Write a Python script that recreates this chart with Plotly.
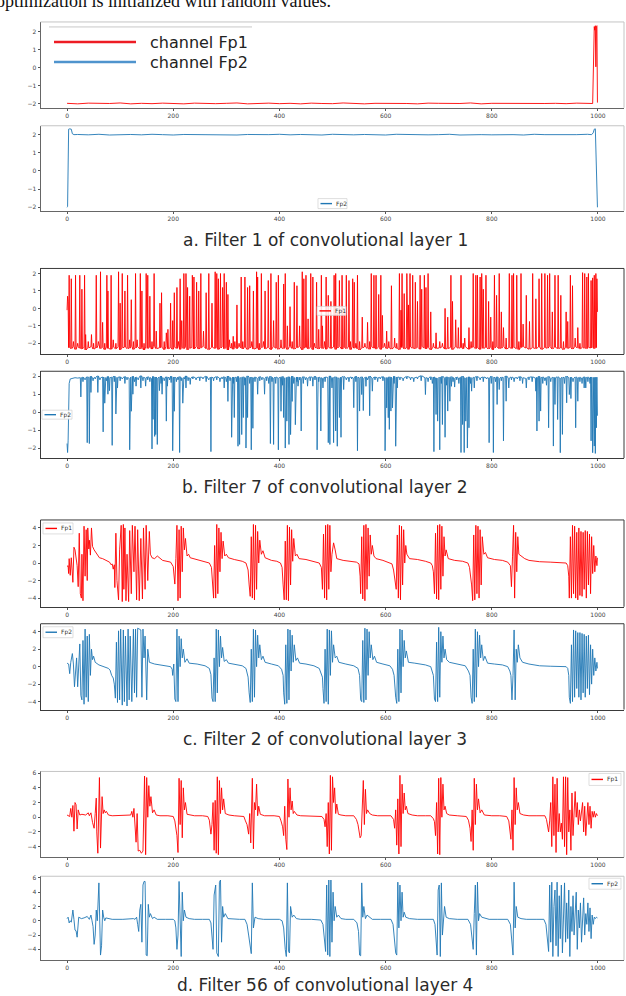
import plotly.graph_objects as go

W, H = 626, 996
RED = "#ff0000"
BLUE = "#1f77b4"

# ---------------- data (sample index 0..999) ----------------

# a. filter 1 / layer 1
a1_x = list(range(0, 1000, 20)) + [990, 993, 994, 995, 996, 997, 998, 999]
a1_y = [-1.99, -2.02, -1.98, -2.01, -2.0, -1.97, -2.02, -1.99, -2.01, -1.98,
        -2.0, -2.02, -1.98, -2.0, -2.01, -1.99, -1.97, -2.02, -2.0, -1.98,
        -2.01, -1.99, -2.02, -1.98, -2.0, -2.01, -1.97, -2.0, -2.02, -1.99,
        -1.98, -2.01, -2.0, -2.02, -1.98, -1.99, -2.01, -2.0, -1.97, -2.02,
        -1.99, -2.0, -2.01, -1.98, -2.02, -2.0, -1.99, -2.01, -1.98, -2.0,
        -2.0, 2.3, 2.1, 2.35, 0.05, 2.3, 2.35, -1.95]

a2_x = [0, 1, 3, 5, 8, 10, 13] + list(range(20, 1000, 20)) + [988, 991, 993, 995, 997, 999]
a2_y = [-2.0, -1.95, 2.3, 2.32, 2.3, 2.05, 2.0,
        2.01, 1.99, 2.02, 1.98, 2.0, 2.01, 1.99, 2.02, 2.0, 1.98,
        2.01, 2.0, 1.99, 2.02, 2.0, 1.98, 2.01, 1.99, 2.0, 2.02,
        1.99, 2.01, 2.0, 1.98, 2.02, 2.0, 1.99, 2.01, 2.0, 1.98,
        2.02, 2.0, 2.01, 1.99, 2.0, 2.02, 1.98, 2.01, 2.0, 1.99,
        2.01, 2.0, 1.98, 2.02, 2.0, 1.99, 2.01, 2.0, 2.02,
        2.0, 2.1, 2.3, 2.32, 0.2, -2.0]

# b. filter 7 / layer 2  (spikes: index, peak value, local baseline)
b1_start_x = [0, 1, 2]
b1_start_y = [-0.1, 0.7, 0.4]
b1_spike_x = [4, 8, 12, 16, 20, 24, 28, 33, 35, 40,
              46, 50, 55, 59, 63, 67, 71, 75, 77, 83,
              87, 92, 97, 100, 104, 109, 114, 118, 121, 125,
              129, 132, 138, 141, 145, 149, 152, 156, 160, 164,
              168, 175, 178, 183, 187, 190, 195, 199, 202, 207,
              210, 213, 216, 220, 224, 227, 231, 236, 239, 244,
              248, 252, 257, 262, 267, 273, 279, 282, 285, 289,
              293, 296, 300, 303, 306, 310, 313, 316, 320, 324,
              328, 331, 335, 340, 344, 348, 351, 357, 359, 362,
              366, 370, 373, 379, 384, 389, 394, 398, 403, 408,
              411, 415, 420, 424, 428, 433, 438, 443, 446, 450,
              454, 459, 463, 466, 470, 474, 479, 481, 485, 488,
              492, 497, 503, 506, 509, 513, 518, 522, 526, 531,
              534, 538, 541, 544, 547, 551, 556, 561, 566, 570,
              573, 578, 582, 587, 591, 594, 598, 602, 606, 611,
              617, 621, 626, 629, 631, 635, 640, 643, 646, 651,
              656, 660, 665, 668, 673, 676, 680, 685, 690, 695,
              702, 707, 712, 717, 723, 726, 732, 737, 742, 746,
              749, 757, 761, 765, 770, 773, 778, 781, 784, 789,
              794, 798, 802, 805, 809, 814, 818, 822, 827, 833,
              838, 841, 847, 851, 855, 859, 865, 871, 877, 883,
              889, 894, 900, 905, 909, 914, 919, 925, 930, 935,
              940, 943, 948, 952, 957, 962, 966, 971, 975, 979,
              982, 987, 990, 993, 996]
b1_spike_y = [1.9, 1.7, -1.9, 1.9, -2.0, 1.9, 1.1, 1.9, -1.5, -1.9,
              -1.5, -2.0, 1.9, -1.9, 2.1, -0.8, -2.0, 1.9, 1.0, 1.9,
              -1.8, -2.0, 2.1, 0.3, 2.0, 1.0, 1.9, -1.8, 0.5, -1.9,
              2.0, -1.8, 2.0, 1.0, -2.0, 2.0, 1.9, 0.7, -1.9, 2.0,
              -1.3, 0.3, 0.9, -1.9, -1.4, -1.2, 0.3, -0.7, 0.9, 1.2,
              -1.9, 1.7, -0.7, 2.0, 2.0, 1.2, 0.7, 1.9, 1.8, 1.5,
              1.0, 2.0, -1.3, 0.9, 2.0, 0.3, 2.1, 2.0, 1.7, 2.0,
              1.2, 2.0, 1.5, 0.8, -1.8, -2.0, -1.6, -1.9, 0.2, -2.0,
              1.8, -1.9, 1.8, 1.2, 1.3, -1.9, 1.0, 2.1, 1.8, -2.0,
              2.0, -1.9, 1.0, 1.6, 2.0, -0.7, 1.5, 1.9, -1.8, 1.4,
              2.0, -1.0, 0.1, -1.9, 1.5, 1.3, -1.0, 2.1, 1.7, 1.9,
              -0.6, 2.0, 1.8, -2.0, 1.5, -1.2, 1.9, -1.0, -1.9, 1.8,
              0.75, 0.4, 1.9, 2.0, -0.2, 1.6, 1.9, -0.2, 1.9, 1.6,
              -1.9, 1.7, 1.5, -2.0, 1.9, -1.9, -0.5, -2.0, -0.8, -1.9,
              2.0, 1.9, 1.9, 0.8, 1.9, -0.4, -2.0, -1.3, -1.9, 1.3,
              -1.7, -2.0, 2.0, -0.1, 2.0, 0.85, 2.0, 0.2, 2.0, 1.9,
              1.5, 0.4, 1.9, 1.1, 1.9, 1.2, 2.0, -0.2, -2.0, -1.4,
              -1.9, -2.0, 0.0, -0.5, 1.9, 0.4, -0.65, -1.1, 1.9, -2.0,
              -1.7, -1.1, -1.9, 2.0, 1.9, 1.9, 1.8, 2.0, 1.1, 1.9,
              0.4, -0.5, -1.9, 1.9, 0.75, 2.0, -0.2, -1.1, -1.7, 2.0,
              1.9, 2.0, 1.9, -1.9, 2.0, -0.9, 0.75, -0.75, 2.0, 0.55,
              1.7, 2.0, 2.0, 1.9, 2.0, -0.2, 1.9, 1.9, 0.75, -1.9,
              -0.2, -0.75, 1.9, 1.3, -1.7, -1.1, -2.0, 2.05, 2.0, 1.8,
              2.0, 1.6, 1.75, 1.9, 2.0]
b1_base = [-2.25, -2.3, -2.2, -2.35, -2.18, -2.28, -2.32, -2.22, -2.38, -2.26,
           -2.2, -2.33, -2.27, -2.15, -2.3, -2.24, -2.36, -2.21, -2.29, -2.34,
           -2.23, -2.31, -2.19, -2.37, -2.26, -2.22, -2.3, -2.28, -2.17, -2.35,
           -2.27, -2.2, -2.32, -2.25, -2.38, -2.21, -2.29, -2.24, -2.33, -2.18,
           -2.3, -2.26, -2.22, -2.36, -2.2, -2.31, -2.27, -2.34, -2.23, -2.29,
           -2.19, -2.35, -2.25, -2.3, -2.21, -2.37, -2.28, -2.24, -2.32, -2.2,
           -2.33, -2.26, -2.18, -2.3, -2.36, -2.23, -2.29, -2.22, -2.35, -2.27,
           -2.21, -2.31, -2.25, -2.38, -2.2, -2.28, -2.34, -2.24, -2.3, -2.19,
           -2.26, -2.32, -2.22, -2.35, -2.27, -2.2, -2.33, -2.29, -2.23, -2.37,
           -2.25, -2.18, -2.31, -2.24, -2.36, -2.21, -2.28, -2.34, -2.26, -2.3,
           -2.22, -2.35, -2.19, -2.29, -2.33, -2.25, -2.2, -2.37, -2.27, -2.23,
           -2.31, -2.24, -2.36, -2.2, -2.28, -2.32, -2.18, -2.3, -2.26, -2.34,
           -2.23, -2.29, -2.21, -2.35, -2.27, -2.19, -2.33, -2.25, -2.3, -2.22,
           -2.36, -2.2, -2.28, -2.24, -2.31, -2.38, -2.26, -2.21, -2.29, -2.34,
           -2.2, -2.27, -2.32, -2.23, -2.35, -2.25, -2.18, -2.3, -2.26, -2.33,
           -2.22, -2.29, -2.36, -2.24, -2.2, -2.31, -2.27, -2.35, -2.21, -2.28,
           -2.3, -2.23, -2.34, -2.19, -2.26, -2.32, -2.25, -2.37, -2.22, -2.29,
           -2.27, -2.2, -2.33, -2.3, -2.24, -2.36, -2.21, -2.28, -2.25, -2.31,
           -2.19, -2.34, -2.26, -2.22, -2.3, -2.27, -2.35, -2.2, -2.29, -2.24,
           -2.32, -2.23, -2.37, -2.26, -2.21, -2.3, -2.28, -2.18, -2.33, -2.25,
           -2.29, -2.22, -2.31, -2.36, -2.24, -2.2, -2.27, -2.34, -2.26, -2.3,
           -2.21, -2.35, -2.25, -2.28, -2.19, -2.32, -2.23, -2.3, -2.27, -2.36,
           -2.22, -2.29, -2.24, -2.33, -2.2, -2.26, -2.31, -2.25, -2.28, -2.3,
           -2.24, -2.27, -2.22, -2.3, -2.25, -2.2, -2.28, -2.26, -2.3, -2.25]
b1_end_x = [998, 999]
b1_end_y = [1.7, -0.2]

b2_start_x = [0, 1, 2, 4, 6, 10, 15, 20]
b2_start_y = [-1.75, -2.25, -1.6, 1.6, 1.85, 1.9, 1.92, 1.9]
b2_spike_x = [26, 30, 34, 38, 42, 45, 49, 53, 58, 62,
              68, 71, 74, 77, 80, 85, 89, 92, 95, 100,
              104, 109, 113, 118, 121, 124, 127, 130, 134, 139,
              143, 148, 152, 156, 160, 162, 165, 167, 170, 174,
              177, 179, 183, 187, 189, 193, 196, 199, 202, 206,
              209, 212, 215, 218, 221, 224, 228, 232, 237, 243,
              250, 256, 262, 267, 271, 276, 282, 288, 292, 296,
              300, 303, 307, 310, 313, 315, 319, 322, 325, 329,
              332, 335, 337, 340, 344, 347, 350, 354, 359, 363,
              367, 372, 376, 380, 383, 386, 389, 393, 398, 403,
              406, 408, 411, 414, 418, 421, 424, 427, 430, 433,
              435, 438, 441, 445, 449, 453, 458, 463, 467, 471,
              474, 478, 482, 486, 492, 495, 499, 502, 506, 509,
              513, 516, 521, 526, 531, 536, 540, 544, 547, 551,
              555, 558, 563, 566, 570, 575, 580, 585, 590, 595,
              599, 602, 605, 607, 610, 613, 616, 619, 622, 627,
              633, 640, 647, 653, 660, 667, 675, 680, 685, 688,
              691, 695, 698, 702, 705, 707, 712, 715, 717, 721,
              724, 727, 730, 734, 738, 742, 745, 748, 751, 754,
              757, 760, 762, 767, 772, 778, 784, 790, 795, 799,
              803, 807, 810, 814, 818, 822, 827, 832, 837, 842,
              848, 853, 858, 865, 870, 876, 883, 885, 889, 892,
              896, 900, 903, 907, 911, 916, 919, 924, 929, 933,
              937, 941, 946, 949, 953, 958, 962, 966, 970, 974,
              977, 981, 985, 987, 990, 993, 995, 997]
b2_spike_y = [0.85, 1.7, 1.8, -1.7, -1.75, 1.1, 1.75, 1.85, 1.1, 1.8,
              -1.1, 0.5, 1.75, 1.0, 1.2, -1.85, 1.7, -0.1, 1.35, 1.75,
              1.85, 1.6, 1.8, -2.1, 0.05, 1.0, 1.7, 1.45, 1.8, 1.35,
              1.75, 1.45, 1.8, 1.7, -2.05, -0.4, -1.35, -1.25, -1.8, 1.2,
              1.6, 1.0, 1.75, -0.5, 1.45, 1.8, 1.65, -2.15, 0.05, 1.7,
              1.8, -2.25, 1.75, 0.5, 1.85, 1.35, 1.75, 1.55, 1.85, 1.8,
              1.75, 1.85, 1.7, 1.8, -2.2, 1.75, 1.8, 1.7, 1.85, 1.35,
              1.7, 0.6, 1.75, -1.4, 1.6, -0.3, 1.7, -1.9, -1.8, -1.25,
              -0.3, 1.5, -2.0, -0.3, 1.6, -2.1, -0.9, 1.7, 1.0, 1.75,
              1.8, 1.0, 1.75, 1.6, -1.75, 1.7, -1.8, 1.6, -2.1, 0.05,
              1.5, -0.3, -2.0, -0.5, -1.8, -1.25, 0.6, 1.6, -0.7, 1.7,
              1.45, 1.8, -1.05, 1.6, 1.8, 1.45, 1.75, 1.45, 1.8, -2.1,
              1.7, -1.05, 1.35, 1.7, -1.7, -1.8, 1.35, -1.7, -1.05, -1.9,
              -0.3, -1.4, 1.26, 1.8, 1.7, 1.85, 0.25, 1.7, -2.15, 0.06,
              0.98, 0.09, 1.44, 1.8, -0.2, 1.17, 1.8, 1.7, 1.85, 1.75,
              -2.15, 0.24, -0.31, -0.96, 0.06, 0.24, 1.6, -1.9, 1.35, 1.8,
              1.75, 1.85, 1.8, 1.7, 1.85, 1.75, 0.98, 1.7, 1.8, 1.6,
              -2.2, -0.13, -0.5, -2.1, 1.6, -0.69, -1.4, 1.5, 0.06, 0.61,
              1.44, 1.7, 1.4, 1.8, 1.6, -2.25, -0.69, -2.25, -0.5, -2.0,
              -0.87, 1.6, 1.17, 1.35, 1.75, 1.8, 1.7, 1.85, -1.7, 1.6,
              -2.25, 1.7, 0.43, 1.26, 1.75, -1.6, 0.61, 1.35, 1.8, 1.7,
              1.85, 1.75, 1.6, 1.35, 1.8, 1.7, 1.17, -1.05, -0.5, 0.06,
              1.6, 1.75, 1.5, -0.87, 1.7, -1.89, 0.43, -0.41, -2.26, -1.24,
              1.6, 0.52, 0.98, 0.76, 1.7, -0.87, 0.61, 1.7, 1.6, 1.35,
              1.35, 1.7, 1.6, -1.6, -2.26, -1.89, -2.3, -0.87]
b2_base = [1.92, 1.95, 1.89, 1.97, 1.93, 2.0, 1.9, 1.94, 2.02, 1.91,
           1.96, 1.88, 1.93, 1.99, 1.92, 1.95, 2.01, 1.9, 1.94, 1.97,
           1.91, 1.98, 1.93, 1.89, 1.96, 2.0, 1.92, 1.95, 1.9, 2.03,
           1.94, 1.91, 1.97, 1.93, 1.88, 1.99, 1.92, 1.96, 1.9, 1.95,
           2.01, 1.93, 1.89, 1.97, 1.92, 1.94, 2.0, 1.91, 1.96, 1.9,
           1.95, 1.98, 1.92, 1.88, 1.94, 2.02, 1.93, 1.9, 1.97, 1.91,
           1.96, 1.93, 2.0, 1.89, 1.95, 1.92, 1.98, 1.9, 1.94, 1.97,
           1.91, 2.01, 1.93, 1.88, 1.96, 1.92, 1.95, 1.99, 1.9, 1.94,
           1.97, 1.92, 1.89, 2.02, 1.93, 1.96, 1.91, 1.95, 1.9, 1.98,
           1.93, 1.88, 1.97, 1.92, 2.0, 1.94, 1.9, 1.96, 1.91, 1.95,
           1.99, 1.92, 1.89, 1.94, 1.97, 1.91, 2.01, 1.93, 1.9, 1.96,
           1.92, 1.95, 1.88, 1.98, 1.93, 1.9, 1.97, 1.94, 2.0, 1.91,
           1.95, 1.92, 1.89, 1.96, 1.93, 2.02, 1.9, 1.94, 1.97, 1.92,
           1.88, 1.95, 1.99, 1.91, 1.93, 1.96, 1.9, 2.0, 1.94, 1.92,
           1.97, 1.89, 1.95, 1.93, 2.01, 1.9, 1.96, 1.92, 1.94, 1.98,
           1.91, 1.93, 1.88, 1.97, 1.95, 1.9, 2.0, 1.92, 1.96, 1.94,
           1.89, 1.99, 1.93, 1.91, 1.95, 2.03, 1.92, 1.9, 1.97, 1.94,
           1.96, 1.91, 1.88, 1.95, 1.93, 2.0, 1.9, 1.97, 1.92, 1.94,
           1.98, 1.93, 1.89, 1.96, 1.91, 1.95, 2.01, 1.92, 1.9, 1.94,
           1.97, 1.93, 1.88, 1.95, 1.99, 1.91, 1.96, 1.92, 1.9, 2.0,
           1.94, 1.92, 1.97, 1.89, 1.95, 1.93, 2.02, 1.9, 1.96, 1.91,
           1.93, 1.98, 1.92, 1.88, 1.95, 1.97, 1.9, 1.94, 2.0, 1.92,
           1.96, 1.91, 1.93, 1.99, 1.89, 1.95, 1.92, 1.97, 1.9, 1.94,
           1.93, 2.01, 1.91, 1.95, 1.88, 1.96, 1.92, 1.94, 1.9, 1.97,
           1.93, 1.95, 1.91, 1.96, 1.92, 1.94, 1.9, 1.95, 1.93, 1.92]
b2_end_x = [998, 999]
b2_end_y = [1.7, -0.2]

# c. filter 2 / layer 3
c1_x = [0, 2, 3, 4, 6, 8, 11, 13, 15, 17, 19, 21, 23, 25, 27, 28, 30, 32, 34, 36,
        38, 39, 41, 42, 44, 46, 48, 51, 55, 58, 61, 67, 73, 80, 83, 85, 87, 89,
        90, 92, 94, 97, 99, 102, 104, 106, 107, 109, 111, 113, 116, 118, 121, 123,
        126, 128, 131, 133, 136, 139, 142, 144, 147, 149, 152, 155, 157, 160, 165,
        170, 180, 195, 200,
        203, 205, 207, 209, 211, 213, 215, 217, 219, 221, 223, 226, 229, 232, 245,
        260, 268, 272,
        274, 276, 278, 280, 282, 284, 286, 288, 290, 292, 294, 297, 300, 304, 315,
        330, 337, 341,
        343, 345, 347, 349, 351, 353, 355, 357, 359, 361, 363, 366, 369, 373, 385,
        395, 402, 405,
        407, 409, 411, 413, 415, 417, 419, 421, 423, 425, 427, 430, 433, 437, 450,
        465, 475, 479,
        481, 483, 485, 487, 489, 491, 493, 495, 497, 499, 502, 505, 508, 520, 535,
        545, 550, 552,
        553, 555, 557, 559, 561, 563, 565, 567, 569, 571, 573, 575, 578, 582, 595,
        605, 612, 615, 617,
        620, 622, 624, 626, 628, 630, 632, 634, 636, 638, 640, 645, 660, 675, 685,
        688, 690,
        692, 694, 696, 698, 700, 702, 704, 706, 708, 710, 712, 714, 718, 730, 745,
        755, 758,
        762, 764, 766, 768, 770, 772, 774, 776, 778, 780, 782, 785, 788, 792, 805,
        820, 830, 835, 837,
        839, 841, 843, 845, 847, 849, 851, 855, 862, 870, 890, 910, 930, 940, 943,
        945,
        946, 948, 950, 952, 954, 956, 958, 960, 962, 964, 966, 968, 970, 972, 974,
        976, 978, 980, 982, 984, 986, 988, 990, 992, 994, 996, 998, 999]
c1_y = [-0.4, -0.3, -1.2, 0.5, -1.4, 0.6, -2.2, 1.8, 1.5, 0.2, -0.3, -2.7, 3.4, -3.5, -4.0, 1.0, -4.3, 4.2, -1.5, 3.8,
        -2.0, 4.0, 1.6, 2.6, 0.9, 4.0, 1.9, 1.5, 1.1, 0.9, 0.6, 0.5, 0.3, 0.1, -0.2, -0.1, -0.7, -0.2,
        -2.8, 3.4, -2.0, -4.2, 1.5, 4.3, -4.4, 4.4, -3.0, 4.0, -4.3, 1.0, -4.4, 3.7, -3.5, 4.3,
        -1.0, 4.2, -4.2, 3.8, -4.3, 2.8, -4.1, 4.0, -3.0, 4.3, -2.0, 3.6, 1.0, 0.6, 0.5,
        0.8, 0.3, 0.1, -0.4,
        -2.4, 0.5, 4.3, -4.3, 3.8, -4.0, 4.2, -1.0, 4.0, 1.5, 2.8, 0.8, 1.0, 0.6, 0.4,
        0.2, 0.0, -0.5,
        -2.3, -4.0, 2.0, -4.0, 4.4, -3.5, 4.0, -1.0, 3.5, 0.5, 2.5, 0.8, 1.0, 0.6, 0.4,
        0.2, 0.0, -0.8,
        -2.5, -3.8, 3.0, -4.0, 4.4, -4.2, 4.3, -3.0, 3.6, 0.0, 2.6, 1.0, 1.4, 0.6, 0.3,
        0.2, 0.0, -0.5,
        -2.5, -4.2, 2.5, -4.2, 4.3, -4.3, 4.1, -2.5, 3.8, 0.2, 2.8, 0.8, 1.0, 0.5, 0.4,
        0.2, 0.0, -0.5,
        -3.0, 3.3, -4.0, 4.3, -4.2, 4.4, -3.0, 4.3, -1.0, 1.0, 2.3, 1.5, 0.5, 0.3, 0.2,
        0.1, -0.1, -1.5,
        -3.5, 3.0, -4.1, 4.3, -4.3, 4.4, -3.0, 4.0, -1.5, 3.2, 1.0, 2.0, 0.8, 0.5, 0.3,
        0.1, -0.1, -0.8, -1.5,
        -3.0, 3.2, -4.0, 4.3, -4.2, 4.2, -2.5, 3.8, 0.0, 2.0, 1.0, 0.5, 0.4, 0.2, 0.0,
        -0.3, -1.0,
        -3.5, 3.4, -4.1, 4.3, -4.2, 4.4, -3.0, 4.2, -1.5, 3.0, 0.8, 1.5, 0.5, 0.3, 0.2,
        0.0, -0.5,
        -2.5, -4.3, 3.2, -4.2, 4.3, -3.5, 4.2, -4.0, 3.8, -2.5, 3.0, 1.0, 1.2, 0.6, 0.4,
        0.3, 0.1, -0.3, -2.7,
        0.7, 4.3, -4.0, 3.5, -1.0, 3.0, 1.0, 0.8, 0.5, 0.3, 0.15, 0.1, 0.05, 0.0, -0.3,
        -1.5,
        -4.0, 3.0, -4.0, 4.3, -3.5, 4.2, -4.0, 3.5, -4.2, 4.0, -3.7, 3.6, -3.8, 3.5, -3.0,
        3.7, -4.0, 3.6, -2.5, 3.3, -3.5, 3.0, -1.2, 2.0, -1.0, 0.8, -0.3, 0.6]

c2_x = [0, 3, 5, 7, 10, 12, 14, 16, 18, 20, 22, 24, 26, 28, 30, 32, 34, 36, 38, 40,
        42, 44, 46, 48, 50, 53, 60, 70, 78, 81, 84, 87,
        89, 91, 93, 95, 97, 99, 101, 104, 106, 108, 110, 113, 115, 117, 119, 122,
        125, 127, 129, 131, 133, 136, 139, 141, 143, 145, 147, 150, 152, 155, 165,
        175, 185, 195, 198,
        199, 201, 203, 205, 207, 209, 211, 213, 215, 217, 219, 222, 226, 230, 245,
        260, 268, 271,
        273, 275, 277, 279, 281, 283, 285, 287, 289, 291, 293, 296, 300, 304, 315,
        330, 337, 341,
        343, 345, 347, 349, 351, 353, 355, 357, 359, 361, 363, 366, 369, 373, 385,
        398, 404, 407,
        408, 410, 412, 414, 416, 418, 420, 422, 424, 426, 428, 431, 434, 438, 450,
        465, 475, 478, 481,
        482, 484, 486, 488, 490, 492, 494, 496, 498, 500, 502, 505, 508, 512, 525,
        540, 548, 551,
        553, 555, 557, 559, 561, 563, 565, 567, 569, 571, 573, 576, 579, 583, 595,
        608, 613, 616,
        619, 621, 623, 625, 627, 629, 631, 633, 635, 637, 639, 643, 655, 675, 685,
        688, 690,
        692, 694, 696, 698, 700, 702, 704, 706, 708, 710, 712, 715, 720, 735, 750,
        756, 759,
        761, 763, 765, 767, 769, 771, 773, 775, 777, 779, 781, 784, 787, 792, 805,
        820, 830, 834, 836,
        838, 840, 842, 844, 846, 848, 850, 853, 858, 870, 890, 910, 930, 940, 943,
        945,
        946, 948, 950, 952, 954, 956, 958, 960, 962, 964, 966, 968, 970, 972, 974,
        976, 978, 980, 982, 984, 986, 988, 990, 992, 994, 996, 998, 999]
c2_y = [0.4, 0.3, -0.8, 0.5, 1.5, 0.3, -2.3, -0.5, 1.0, -2.3, 0.5, 2.6, -3.3, -3.8, 3.0, -4.3, 4.3, -3.5, 3.5, -4.0,
        3.7, -1.0, 2.0, 0.8, 1.2, 0.5, 0.2, 0.0, -0.2, -0.4, -1.0, -1.3,
        -2.0, -3.6, 2.8, -4.1, 4.1, -3.8, 4.3, -4.4, 4.2, -4.0, 3.5, -4.5, 4.3, -3.8, 3.5, -4.0,
        4.3, -3.0, 4.3, -3.5, 4.4, 4.3, 4.2, -3.5, 4.3, 1.0, 3.5, -3.8, 2.0, 0.5, 0.3,
        0.2, 0.1, 0.0, -0.3,
        -1.0, 0.3, -3.7, -4.0, 4.3, -4.0, 3.5, 0.0, 3.2, 1.0, 2.0, 0.5, 0.9, 0.4, 0.3,
        0.1, -0.2, -0.9,
        -3.6, -4.0, 1.0, -4.0, 4.3, -3.0, 4.2, 0.0, 3.5, 1.0, 2.2, 0.6, 0.8, 0.4, 0.3,
        0.1, -0.2, -1.2,
        -3.0, -4.1, 2.0, -4.0, 4.3, -3.5, 4.2, 0.0, 3.6, 1.0, 2.5, 0.8, 1.2, 0.5, 0.3,
        0.1, -0.3, -1.0,
        -3.0, -4.3, 2.5, -4.2, 4.3, -3.8, 4.2, -0.5, 3.6, 0.5, 2.5, 0.7, 1.0, 0.4, 0.3,
        0.1, -0.2, -0.6, -1.2,
        -2.5, -4.2, 2.0, -4.0, 4.3, -4.3, 4.2, -1.0, 4.1, 0.5, 2.5, 1.0, 1.2, 0.5, 0.3,
        0.1, -0.2, -1.0,
        -3.8, -4.0, 3.0, -4.1, 4.4, -3.8, 4.3, -1.0, 4.0, 1.0, 2.5, 0.8, 1.2, 0.5, 0.3,
        0.1, -0.3, -1.0,
        -3.5, -4.2, 2.0, -4.0, 4.3, -3.0, 4.2, 0.0, 3.0, 1.0, 1.8, 0.5, 0.4, 0.2, 0.0,
        -0.5, -1.0,
        -3.7, -4.0, 2.8, -4.0, 4.5, -3.5, 4.0, 0.5, 3.5, 1.0, 2.0, 0.8, 0.5, 0.3, 0.1,
        -0.5, -1.0,
        -3.5, -4.2, 2.0, -4.0, 4.3, -3.5, 4.0, 0.0, 3.6, 1.0, 2.5, 0.7, 1.2, 0.4, 0.3,
        0.2, 0.0, -0.5, -1.0,
        -3.8, -1.0, 4.2, -3.8, 2.0, 0.5, 2.5, 1.0, 0.5, 0.3, 0.1, 0.05, 0.0, 0.0, -0.2,
        -1.0,
        -3.5, -4.2, 2.5, -4.0, 4.2, -3.5, 4.1, -2.5, 3.9, -3.5, 3.9, -3.8, 3.8, -3.0, 3.7,
        -3.5, 3.5, -2.5, 3.6, -3.2, 2.5, -2.0, 2.0, -1.0, 1.0, -0.5, 0.5, -0.2]

# d. filter 56 / layer 4
d1_x = [0, 3, 5, 7, 9, 11, 13, 15, 17, 19, 21, 24, 28, 35, 40, 42, 45, 48, 51, 53,
        55, 56, 58, 61, 63, 66, 68, 70, 72, 74, 78, 85, 100, 115,
        120, 122, 124, 126, 128, 130, 132, 134, 137, 140, 143, 146, 148, 150, 152,
        154, 156, 158, 161, 164, 168, 175, 190,
        200, 203, 205, 207, 209, 211, 213, 215, 217, 219, 221, 223, 226, 232, 240,
        255, 265, 268, 271, 273, 275, 277, 279, 281, 283, 285, 287, 289, 291, 293,
        295, 298, 305, 315, 325,
        333, 336, 339, 342, 344, 346, 349, 351, 353, 355, 357, 359, 361, 364, 372,
        390, 400, 403, 406, 408, 410, 412, 414, 416, 418, 420, 422, 424, 426, 428,
        433, 440, 460,
        480, 484, 486, 488, 490, 492, 494, 496, 498, 500, 502, 504, 506, 508, 511,
        516, 525, 540, 545, 548, 550, 552, 554, 556, 558, 560, 562, 564, 566, 570,
        575, 585, 600,
        610, 615, 617, 619, 621, 623, 625, 627, 629, 631, 633, 635, 637, 639, 642,
        650, 660, 675, 685, 690, 692, 694, 696, 698, 700, 702, 704, 706, 708, 710,
        712, 715, 720, 735,
        752, 756, 759, 761, 763, 765, 767, 769, 771, 773, 775, 778, 781, 786, 800,
        815, 828, 832, 834, 836, 838, 840, 842, 844, 846, 848, 850, 853, 860, 870,
        885, 900,
        903, 905, 907, 909, 911, 913, 915, 917, 919, 921, 923, 925, 927, 929, 931,
        933, 935, 937, 939, 941, 943, 945, 947, 949, 951, 953, 955, 957, 959, 961,
        963, 965, 967, 969, 971, 973, 975, 977, 979, 981, 983, 985, 987, 989, 991,
        993, 995, 997, 999]
d1_y = [0.3, 0.2, 0.1, 1.2, 0.0, 1.6, -1.9, 2.0, 1.7, -1.6, 1.0, 0.3, 0.4, 0.3, 0.6, 0.2, 0.6, -0.7, -1.5, 0.5,
        2.6, -2.0, -4.9, 5.4, -4.2, 2.8, 0.5, 1.0, 0.6, 0.8, 0.3, 0.2, 0.2, 0.2,
        0.3, 0.8, 0.0, 1.2, -1.0, -3.4, 0.5, -4.6, -4.5, -4.9, -4.6, 5.6, -5.1, 5.4, 0.0,
        4.3, 1.5, 2.8, 0.6, 1.0, 0.3, 0.2, 0.2,
        0.1, -0.5, -1.5, -2.5, -4.8, 5.3, -1.0, 5.0, -2.8, 4.0, 1.0, 2.0, 0.4, 0.3, 0.2,
        0.2, 0.1, -0.4, -2.3, -1.0, 2.0, -4.5, 2.3, -4.9, 5.5, -5.1, 5.0, 0.5, 4.0, 1.0,
        2.5, 0.5, 0.3, 0.2, 0.2,
        0.1, -0.5, -1.0, -2.3, 0.5, -3.5, 5.3, -4.3, 2.0, 1.0, 4.5, 0.2, 1.5, 0.4, 0.2,
        0.2, 0.1, -0.5, -1.3, -2.5, 1.5, -3.0, -4.4, 5.2, 0.0, 4.0, 1.0, 2.2, 0.5, 0.8,
        0.3, 0.2, 0.2,
        0.1, -0.3, -1.3, 0.5, -4.0, 2.0, -5.0, 5.7, -4.5, 5.5, 2.0, 4.0, 0.5, 1.8, 0.4,
        0.3, 0.2, 0.2, -0.3, -1.0, -2.0, -2.8, -2.5, 1.0, 5.0, -1.0, 3.8, 0.5, 1.0, 0.5,
        0.3, 0.2, 0.2,
        0.2, -0.3, -1.5, 1.0, -3.8, 2.5, -5.0, 5.7, -4.0, 4.5, 0.5, 3.3, 1.0, 1.5, 0.5,
        0.3, 0.2, 0.2, 0.2, -0.2, -0.6, -2.5, 2.0, -5.0, 5.3, -5.1, 5.4, 0.0, 4.5, 1.0,
        1.5, 0.5, 0.3, 0.2,
        0.1, -0.4, -1.5, -3.3, 1.0, -4.5, 5.3, -1.0, 4.5, 1.0, 2.5, 0.6, 1.0, 0.3, 0.2,
        0.2, 0.1, -0.5, -1.8, -3.0, 1.0, -4.5, 5.4, -1.0, 4.0, 1.0, 2.0, 0.5, 0.3, 0.2,
        0.2, 0.2,
        -0.3, -1.0, -2.0, -0.5, 2.0, -4.0, 5.5, -2.5, 4.5, -4.8, 5.3, -2.0, 0.5, -2.0, -0.8,
        -3.0, 5.5, -4.0, 5.5, -5.1, 5.4, -2.0, 1.0, -4.5, 3.3, -2.5, 1.0, 3.5, 0.0, 2.0,
        -1.0, 1.0, -0.5, 0.5, 2.0, -2.0, 1.5, -2.5, 0.3, 2.0, -1.0, 1.5, -1.5, 0.8, 0.0,
        0.8, 0.0, 0.5, 0.2]

d2_x = [0, 2, 4, 6, 8, 11, 13, 15, 17, 19, 22, 27, 32, 38, 42, 45, 47, 49, 51, 53,
        55, 57, 60, 62, 63, 65, 67, 69, 71, 73, 78, 85, 105,
        125, 128, 131, 133, 135, 137, 139, 141, 143, 145, 147, 149, 151, 153, 155,
        157, 161, 164, 170, 185,
        200, 203, 205, 207, 209, 211, 213, 215, 217, 219, 221, 224, 230, 240, 255,
        268, 271, 273, 275, 277, 280, 282, 285, 287, 289, 291, 293, 295, 298, 303,
        315, 325,
        335, 339, 342, 345, 347, 349, 351, 354, 360, 370, 385,
        400, 405, 408, 411, 413, 415, 417, 419, 421, 424, 427, 432, 440, 460,
        478, 482, 485, 487, 489, 491, 493, 495, 497, 499, 501, 503, 505, 508, 511,
        516, 525,
        540, 546, 549, 551, 553, 555, 557, 559, 562, 565, 575, 590,
        610, 614, 617, 619, 621, 623, 625, 627, 629, 631, 633, 635, 638, 645, 660,
        675,
        690, 693, 695, 697, 699, 701, 703, 705, 707, 709, 711, 714, 720, 735,
        755, 760, 763, 765, 767, 769, 771, 773, 775, 777, 781, 795, 810,
        830, 835, 838, 840, 842, 844, 846, 849, 855, 865, 885,
        898, 902, 905, 907, 909, 911, 913, 915, 917, 919, 921, 923, 925, 927, 929,
        931, 933, 935, 937, 939, 941, 943, 945, 947, 949, 951, 953, 955, 957, 959,
        961, 963, 965, 967, 969, 971, 973, 975, 977, 979, 981, 983, 985, 987, 989,
        991, 993, 995, 997, 999]
d2_y = [0.3, 0.5, -0.3, 0.0, -0.2, 1.5, 0.2, -1.3, -1.4, -2.3, 0.5, 0.3, 0.4, 0.6, 0.2, 0.8, 0.0, -0.8, -3.3, -2.0,
        1.5, 0.0, 5.3, -4.0, -4.8, -3.5, 1.5, 0.5, 0.0, 0.4, 0.3, 0.2, 0.2,
        0.3, 0.2, 0.5, -0.5, -1.5, 1.5, 2.3, -3.0, 5.0, 5.5, 5.5, -4.8, -4.9, 2.3, 0.5,
        1.0, 0.3, 0.5, 0.2, 0.2,
        0.2, 0.0, -1.0, -4.0, -2.0, 5.5, 0.5, -5.0, 4.0, 0.0, 1.5, 0.5, 0.3, 0.2, 0.2,
        0.2, -0.3, -2.0, -4.0, 3.6, 5.0, -4.5, -5.0, 5.4, 5.7, -3.0, 2.0, 0.5, 1.0, 0.3,
        0.2, 0.2,
        0.2, -0.5, -2.0, -4.0, -4.6, 5.3, -1.0, 0.5, 0.3, 0.2, 0.2,
        0.2, 0.0, -1.0, -4.0, -5.0, 5.3, -4.3, -4.5, 2.0, 0.5, 0.8, 0.3, 0.2, 0.2,
        0.1, -0.5, -2.5, -4.3, 5.0, -4.8, 5.7, -5.0, 5.7, -3.0, 4.0, 0.0, 2.0, 0.5, 0.8,
        0.3, 0.2,
        0.2, -0.3, -1.5, -4.8, -4.9, 5.3, 0.5, 2.0, 0.3, 0.8, 0.2, 0.2,
        0.2, -0.5, -2.5, -4.5, -4.8, 5.4, -1.0, 5.0, 0.0, 4.0, 0.5, 1.2, 0.5, 0.3, 0.2,
        0.2,
        0.2, -0.5, -2.5, -4.8, 4.3, 5.0, -5.0, 5.3, -2.0, 0.5, 2.0, 0.5, 0.3, 0.2,
        0.2, -0.5, -2.5, -4.0, 1.0, 5.0, -4.8, 5.4, 0.0, 1.0, 0.5, 0.2, 0.2,
        0.2, -0.5, -3.0, -4.8, 5.4, -1.0, 2.0, 0.5, 0.3, 0.2, 0.2,
        0.2, -0.5, -2.5, -4.3, 5.0, -3.0, 5.4, -5.0, 2.0, 4.3, -3.5, 5.4, -5.0, 3.5, -2.5,
        5.0, -4.5, 1.5, 5.3, -3.0, 2.5, -2.5, 4.3, -5.0, 2.0, -1.5, 3.5, -2.0, 1.0, 4.0,
        -4.0, 1.5, -1.0, 2.5, -3.0, 0.5, 3.2, -2.0, 1.0, -0.5, 2.5, -1.5, 1.8, -2.5, 0.8,
        -0.5, 0.5, 0.3, 0.5, 0.4]

x_ticks = [0, 200, 400, 600, 800, 1000]
captions = ["a. Filter 1 of convolutional layer 1",
            "b. Filter 7 of convolutional layer 2",
            "c. Filter 2 of convolutional layer 3",
            "d. Filter 56 of convolutional layer 4"]


def spike_series(sx0, sy0, xs, peaks, bases, ex, ey):
    px, py = list(sx0), list(sy0)
    for x, p, b in zip(xs, peaks, bases):
        px += [x - 1, x, x + 1]
        py += [b, p, b]
    return px + list(ex), py + list(ey)


b1_x, b1_y = spike_series(b1_start_x, b1_start_y, b1_spike_x, b1_spike_y, b1_base, b1_end_x, b1_end_y)
b2_x, b2_y = spike_series(b2_start_x, b2_start_y, b2_spike_x, b2_spike_y, b2_base, b2_end_x, b2_end_y)

# ---------------- layout ----------------

def px_x(v):
    return v / W


def px_y(v):
    return 1 - v / H


XL, XR = 40.5, 624
panels = [
    dict(x=a1_x, y=a1_y, c=RED, top=20, bot=106, yr=[-2.24, 2.56], yt=[-2, -1, 0, 1, 2], light=True),
    dict(x=a2_x, y=a2_y, c=BLUE, top=124, bot=209, yr=[-2.18, 2.49], yt=[-2, -1, 0, 1, 2], light=True),
    dict(x=b1_x, y=b1_y, c=RED, top=267, bot=353, yr=[-2.63, 2.29], yt=[-2, -1, 0, 1, 2], light=False),
    dict(x=b2_x, y=b2_y, c=BLUE, top=370, bot=457, yr=[-2.56, 2.28], yt=[-2, -1, 0, 1, 2], light=False),
    dict(x=c1_x, y=c1_y, c=RED, top=519, bot=606, yr=[-4.99, 4.91], yt=[-4, -2, 0, 2, 4], light=False),
    dict(x=c2_x, y=c2_y, c=BLUE, top=623, bot=709, yr=[-4.91, 4.91], yt=[-4, -2, 0, 2, 4], light=False),
    dict(x=d1_x, y=d1_y, c=RED, top=771, bot=857, yr=[-5.45, 6.23], yt=[-4, -2, 0, 2, 4, 6], light=True),
    dict(x=d2_x, y=d2_y, c=BLUE, top=876, bot=960, yr=[-5.5, 6.23], yt=[-4, -2, 0, 2, 4, 6], light=True),
]

fig = go.Figure()
shapes = []
annotations = []
tickfont = dict(family="DejaVu Sans", size=6, color="#444")

for i, p in enumerate(panels, start=1):
    sfx = "" if i == 1 else str(i)
    fig.add_trace(go.Scatter(x=p["x"], y=p["y"], mode="lines",
                             line=dict(color=p["c"], width=0.9),
                             xaxis="x" + sfx, yaxis="y" + sfx,
                             showlegend=False, hoverinfo="skip"))
    dark = "#666" if p["light"] else "#3a3a3a"
    edge = "#c4c4c4" if p["light"] else "#3a3a3a"
    fig.layout["xaxis" + sfx] = dict(
        domain=[px_x(XL), px_x(XR)], range=[-50, 1049], anchor="y" + sfx,
        tickvals=x_ticks, ticks="outside", ticklen=2, tickwidth=0.6, tickcolor="#555",
        tickfont=tickfont, showgrid=False, zeroline=False,
        showline=True, linecolor=dark, linewidth=1, fixedrange=True)
    fig.layout["yaxis" + sfx] = dict(
        domain=[px_y(p["bot"]), px_y(p["top"])], range=p["yr"], anchor="x" + sfx,
        tickvals=p["yt"], ticktext=[str(v).replace("-", "\u2212") for v in p["yt"]],
        ticks="outside", ticklen=2, tickwidth=0.6, tickcolor="#555",
        tickfont=tickfont, showgrid=False, zeroline=False,
        showline=True, linecolor=dark, linewidth=1, fixedrange=True)
    # top and right frame edges
    for (x0, y0, x1, y1) in [(0, 1, 1, 1), (1, 0, 1, 1)]:
        shapes.append(dict(type="line", xref="x" + sfx + " domain", yref="y" + sfx + " domain",
                           x0=x0, y0=y0, x1=x1, y1=y1, line=dict(color=edge, width=1)))


def small_legend(x0, y0, x1, y1, label, color):
    ym = (y0 + y1) / 2
    shapes.append(dict(type="rect", xref="paper", yref="paper",
                       x0=px_x(x0), x1=px_x(x1), y0=px_y(y1), y1=px_y(y0),
                       line=dict(color="#d0d0d0", width=0.7), fillcolor="rgba(255,255,255,0.85)"))
    shapes.append(dict(type="line", xref="paper", yref="paper",
                       x0=px_x(x0 + 2.5), x1=px_x(x0 + 14), y0=px_y(ym), y1=px_y(ym),
                       line=dict(color=color, width=1.4)))
    annotations.append(dict(text=label, xref="paper", yref="paper", x=px_x(x0 + 16), y=px_y(ym),
                            xanchor="left", yanchor="middle", showarrow=False,
                            font=dict(family="DejaVu Sans", size=6, color="#333")))


small_legend(318, 197, 347, 207, "Fp2", BLUE)
small_legend(317, 305, 346, 314, "Fp1", RED)
small_legend(42, 409, 72, 418, "Fp2", BLUE)
small_legend(43, 522, 73, 533, "Fp1", RED)
small_legend(43, 626, 73, 637, "Fp2", BLUE)
small_legend(589, 773, 621, 785, "Fp1", RED)
small_legend(589, 878, 621, 889, "Fp2", BLUE)

# big legend pasted over panel a
shapes.append(dict(type="line", xref="paper", yref="paper", x0=px_x(49), x1=px_x(252),
                   y0=px_y(25), y1=px_y(25), line=dict(color="#c8c8c8", width=1)))
for yy, col, lab in [(40, "#ed1c24", "channel Fp1"), (60, "#4f94cd", "channel Fp2")]:
    shapes.append(dict(type="line", xref="paper", yref="paper", x0=px_x(54), x1=px_x(136),
                       y0=px_y(yy), y1=px_y(yy), line=dict(color=col, width=2.5)))
    annotations.append(dict(text=lab, xref="paper", yref="paper", x=px_x(148), y=px_y(yy + 1),
                            xanchor="left", yanchor="middle", showarrow=False,
                            font=dict(family="DejaVu Sans", size=16, color="#222")))

# sub-figure captions
for cap, cy in zip(captions, [238, 486, 738, 985]):
    annotations.append(dict(text=cap, xref="paper", yref="paper", x=px_x(325), y=px_y(cy),
                            xanchor="center", yanchor="middle", showarrow=False,
                            font=dict(family="DejaVu Sans", size=17, color="#2a2a2a")))

# line of body text cut off at the top of the crop
annotations.append(dict(text="optimization is initialized with random values.", xref="paper", yref="paper",
                        x=px_x(-6), y=px_y(11), xanchor="left", yanchor="bottom", showarrow=False,
                        font=dict(family="Liberation Serif", size=18, color="#111")))

fig.update_layout(width=W, height=H, margin=dict(l=0, r=0, t=0, b=0), autosize=False,
                  paper_bgcolor="white", plot_bgcolor="white",
                  shapes=shapes, annotations=annotations)

# the page's default body margin would push the 626x996 figure off the window
fig.write_html("out.html", config={"displayModeBar": False},
               post_script="document.body.style.margin='0';")
